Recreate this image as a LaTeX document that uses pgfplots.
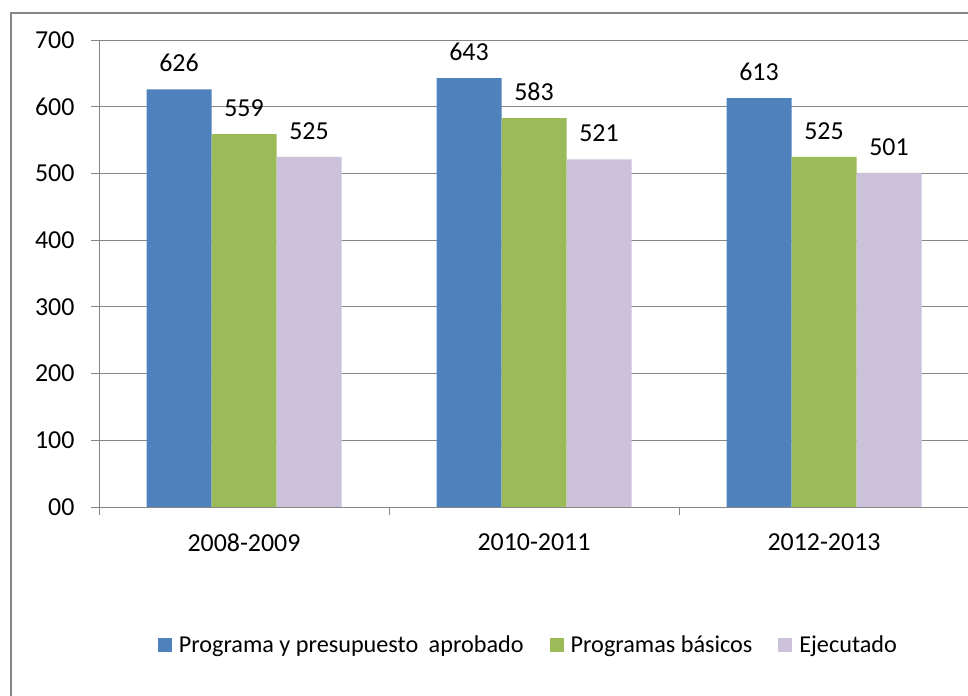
\documentclass[border=0pt]{standalone}
\usepackage{fontspec}
\setmainfont{Carlito}
\usepackage{pgfplots}
\pgfplotsset{compat=1.18}
\definecolor{cblue}{HTML}{4F81BD}
\definecolor{cgreen}{HTML}{9BBB59}
\definecolor{cpurp}{HTML}{CCC1DA}
\definecolor{cgrid}{HTML}{868686}
\begin{document}
\begin{tikzpicture}[font=\fontsize{26}{31}\selectfont]
\path[use as bounding box] (0bp,0bp) rectangle (968bp,696bp);
\clip (0bp,0bp) rectangle (968bp,696bp);
\draw[cgrid, line width=1.5bp] (11bp,-10bp) rectangle (990bp,683bp);
\begin{axis}[at={(99bp,189bp)}, anchor=south west, scale only axis,
 width=870bp, height=467bp,
 ybar=0pt, bar width=65bp,
 xmin=-0.5, xmax=2.5, ymin=0, ymax=700,
 xtick={-0.5,0.5,1.5,2.5}, xticklabels={},
 extra x ticks={0,1,2},
 extra x tick labels={2008-2009,2010-2011,2012-2013},
 extra x tick style={major tick length=0pt, xticklabel style={yshift=-23bp}},
 ytick={0,100,...,700}, yticklabels={00,100,200,300,400,500,600,700},
 yticklabel style={xshift=-13bp},
 axis x line=bottom, axis y line=left,
 axis line style={cgrid,-,line width=1bp},
 ymajorgrids, grid style={cgrid,line width=1bp},
 tick align=outside, major tick length=8bp,
 tick style={cgrid,line width=1bp},
 /pgf/number format/assume math mode=true,
 tick label style={font=\fontsize{26}{31}\selectfont, text=black},
 nodes near coords,
 every node near coord/.append style={font=\fontsize{26}{31}\selectfont, text=black, yshift=14bp},
 legend style={at={(0.4935,-0.295)}, anchor=center, draw=none, fill=none,
   legend columns=3, font=\fontsize{24.3}{29}\selectfont,
   /tikz/every odd column/.append style={column sep=5bp},
   /tikz/every even column/.append style={column sep=24bp}},
 legend image code/.code={\fill[#1] (0bp,-7bp) rectangle (14bp,7bp);},
]
\addplot[fill=cblue, draw=none] coordinates {(0,626) (1,643) (2,613)};
\addplot[fill=cgreen, draw=none] coordinates {(0,559) (1,583) (2,525)};
\addplot[fill=cpurp, draw=none] coordinates {(0,525) (1,521) (2,501)};
\legend{Programa y presupuesto\hspace{5bp} aprobado, Programas básicos, Ejecutado}
\end{axis}
\end{tikzpicture}
\end{document}
